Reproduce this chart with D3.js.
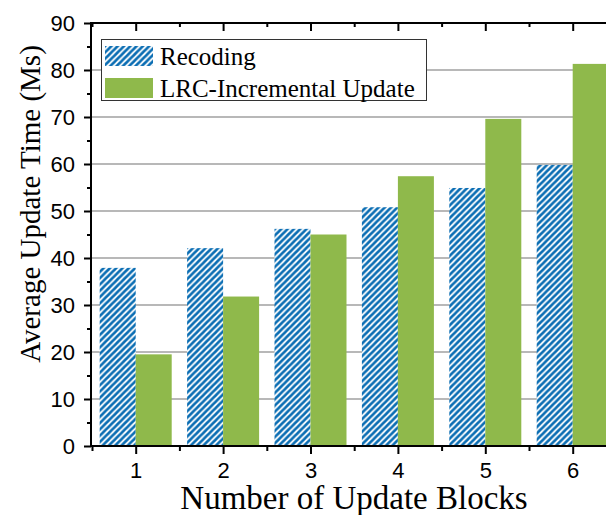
<!DOCTYPE html>
<html>
<head>
<meta charset="utf-8">
<script src="https://cdn.jsdelivr.net/npm/d3@7"></script>
<style>
  html, body { margin: 0; padding: 0; background: #fff; }
  svg { display: block; }
</style>
</head>
<body>
<svg id="chart" width="606" height="515"></svg>
<script>
// Update-block counts on the x axis
const blocks = [1, 2, 3, 4, 5, 6];
// Average update time (ms) per scheme
const recoding = [37.9, 42.1, 46.2, 50.8, 54.9, 59.8];
const lrcIncremental = [19.5, 31.8, 45.0, 57.4, 69.6, 81.3];
const seriesNames = ["Recoding", "LRC-Incremental Update"];
const yMajorTicks = [0, 10, 20, 30, 40, 50, 60, 70, 80, 90];
const yMinorTicks = [5, 15, 25, 35, 45, 55, 65, 75, 85];
const xMinorTicks = [0.5, 1.5, 2.5, 3.5, 4.5, 5.5, 6.5];

const BLUE = "#0a6db3";
const GREEN = "#8fb94b";

const svg = d3.select("#chart");

const plotLeft = 91, plotTop = 23, plotBottom = 446;
const x = d3.scaleLinear().domain([0.5, 6.5]).range([92, 92 + 6 * 87.4]);
const y = d3.scaleLinear().domain([0, 90]).range([plotBottom, plotTop]);
const plotRight = x(6.5);
const barW = 36;

// Forward-slash hatch for the Recoding bars
const defs = svg.append("defs");
const pat = defs.append("pattern")
  .attr("id", "hatch")
  .attr("patternUnits", "userSpaceOnUse")
  .attr("width", 6.3).attr("height", 6.3);
pat.append("rect").attr("width", 6.3).attr("height", 6.3).attr("fill", "#fff");
pat.append("path")
  .attr("d", "M-1.5,7.8 L7.8,-1.5 M-4.8,4.8 L4.8,-4.8 M1.5,11.1 L11.1,1.5")
  .attr("stroke", BLUE).attr("stroke-width", 2.7);

// Horizontal gridlines
svg.append("g")
  .selectAll("line")
  .data(yMajorTicks.filter(d => d > 0 && d < 90))
  .join("line")
  .attr("x1", plotLeft).attr("x2", plotRight)
  .attr("y1", d => y(d)).attr("y2", d => y(d))
  .attr("stroke", "#a0a0a0").attr("stroke-width", 1.5);

// Bars
const bars = svg.append("g");
bars.selectAll("rect.rec")
  .data(blocks)
  .join("rect")
  .attr("class", "rec")
  .attr("x", (d) => x(d) - barW)
  .attr("width", barW)
  .attr("y", (d, i) => y(recoding[i]))
  .attr("height", (d, i) => y(0) - y(recoding[i]))
  .attr("fill", "url(#hatch)");
bars.selectAll("rect.lrc")
  .data(blocks)
  .join("rect")
  .attr("class", "lrc")
  .attr("x", (d) => x(d))
  .attr("width", barW)
  .attr("y", (d, i) => y(lrcIncremental[i]))
  .attr("height", (d, i) => y(0) - y(lrcIncremental[i]))
  .attr("fill", GREEN);

// Axes
function styleAxis(g) {
  g.selectAll(".domain").remove();
  g.selectAll(".tick line").attr("stroke", "#000").attr("stroke-width", 2);
  g.selectAll("text")
    .attr("font-family", "'Liberation Sans', Arial, sans-serif")
    .attr("font-size", 22).attr("fill", "#000");
}

// Left axis: labelled majors + short minors
svg.append("g").attr("transform", `translate(${plotLeft},0)`)
  .call(d3.axisLeft(y).tickValues(yMajorTicks).tickSize(7).tickPadding(9).tickFormat(d3.format("d")))
  .call(styleAxis);
svg.append("g").attr("transform", `translate(${plotLeft},0)`)
  .call(d3.axisLeft(y).tickValues(yMinorTicks).tickSize(4).tickFormat(""))
  .call(styleAxis);

// Bottom axis
svg.append("g").attr("transform", `translate(0,${plotBottom})`)
  .call(d3.axisBottom(x).tickValues(blocks).tickSize(8).tickPadding(8).tickFormat(d3.format("d")))
  .call(styleAxis);
svg.append("g").attr("transform", `translate(0,${plotBottom})`)
  .call(d3.axisBottom(x).tickValues(xMinorTicks).tickSize(5).tickFormat(""))
  .call(styleAxis);

// Top axis: inward ticks, no labels
svg.append("g").attr("transform", `translate(0,${plotTop})`)
  .call(d3.axisBottom(x).tickValues(blocks).tickSize(8).tickFormat(""))
  .call(styleAxis);
svg.append("g").attr("transform", `translate(0,${plotTop})`)
  .call(d3.axisBottom(x).tickValues(xMinorTicks).tickSize(4).tickFormat(""))
  .call(styleAxis);

// Frame lines
svg.append("line").attr("x1", plotLeft).attr("x2", plotLeft).attr("y1", plotTop - 1).attr("y2", plotBottom + 1)
  .attr("stroke", "#000").attr("stroke-width", 2);
svg.append("line").attr("x1", plotLeft - 1).attr("x2", plotRight).attr("y1", plotBottom).attr("y2", plotBottom)
  .attr("stroke", "#000").attr("stroke-width", 2);
svg.append("line").attr("x1", plotLeft - 1).attr("x2", plotRight).attr("y1", plotTop).attr("y2", plotTop)
  .attr("stroke", "#000").attr("stroke-width", 2);

// Axis titles
svg.append("text")
  .attr("x", 354).attr("y", 509)
  .attr("text-anchor", "middle")
  .attr("font-family", "'Liberation Serif', 'Times New Roman', serif")
  .attr("font-size", 33)
  .text("Number of Update Blocks");
svg.append("text")
  .attr("transform", "translate(39.5,204) rotate(-90)")
  .attr("text-anchor", "middle")
  .attr("font-family", "'Liberation Serif', 'Times New Roman', serif")
  .attr("font-size", 29)
  .text("Average Update Time (Ms)");

// Legend
const legend = svg.append("g");
legend.append("rect")
  .attr("x", 101.5).attr("y", 39.5).attr("width", 325).attr("height", 61)
  .attr("fill", "#fff").attr("stroke", "#333").attr("stroke-width", 1);
const fills = ["url(#hatch)", GREEN];
const rowY = [46, 78];
seriesNames.forEach((name, i) => {
  legend.append("rect")
    .attr("x", 105).attr("y", rowY[i]).attr("width", 48).attr("height", 20)
    .attr("fill", fills[i]);
  legend.append("text")
    .attr("x", 160).attr("y", rowY[i] + 19)
    .attr("font-family", "'Liberation Serif', 'Times New Roman', serif")
    .attr("font-size", 25)
    .text(name);
});
</script>
</body>
</html>
